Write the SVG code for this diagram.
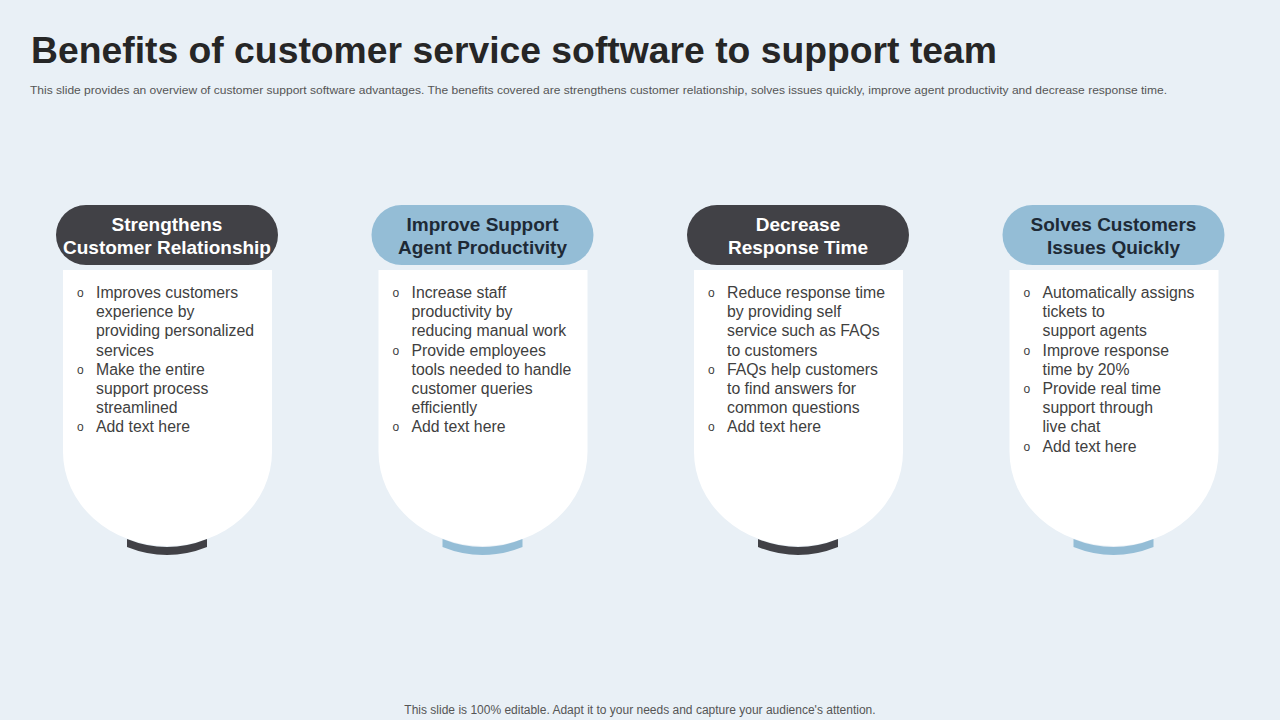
<svg xmlns="http://www.w3.org/2000/svg" width="1280" height="720" viewBox="0 0 1280 720">
<defs>
<style>
.bg{fill:#e9f0f6}
.title{font-family:"Liberation Sans",Arial,sans-serif;font-weight:bold;font-size:37px;fill:#262626}
.sub{font-family:"Liberation Sans",Arial,sans-serif;font-size:10.5px;fill:#555}
.foot{font-family:"Liberation Sans",Arial,sans-serif;font-size:12px;fill:#555}
.card{fill:#ffffff}
.dark{fill:#414146}
.light{fill:#94bdd6}
.hw{font-family:"Liberation Sans",Arial,sans-serif;font-weight:bold;font-size:19px;fill:#ffffff}
.hd{font-family:"Liberation Sans",Arial,sans-serif;font-weight:bold;font-size:19px;fill:#1e2a36}
.body{font-family:"Liberation Sans",Arial,sans-serif;font-size:15.8px;fill:#404040}
.bul{font-family:"Liberation Sans",Arial,sans-serif;font-size:12px;fill:#404040}
</style>
<path id="cardShape" d="M63,270 H272 V452 A104.5,94 0 0 1 63,452 Z"/>
<path id="arcShape" d="M127,539 Q167,555 207,539 L207,547 Q167,563 127,547 Z"/>
</defs>
<rect class="bg" x="0" y="0" width="1280" height="720"/>
<text class="title" x="31" y="63" textLength="966" lengthAdjust="spacingAndGlyphs">Benefits of customer service software to support team</text>
<text class="sub" x="30" y="94" textLength="1137" lengthAdjust="spacingAndGlyphs">This slide provides an overview of customer support software advantages. The benefits covered are strengthens customer relationship, solves issues quickly, improve agent productivity and decrease response time.</text>

<g id="connectors"></g>

<g id="node1">
<use href="#cardShape" class="card"/>
<use href="#arcShape" class="dark"/>
<rect class="dark" x="56" y="205" width="222" height="60" rx="30"/>
<text class="hw" text-anchor="middle"><tspan x="167" y="230.5">Strengthens</tspan><tspan x="167" y="253.5">Customer Relationship</tspan></text>
<text class="bul"><tspan x="77" y="297">o</tspan><tspan x="77" y="373.8">o</tspan><tspan x="77" y="431.4">o</tspan></text>
<text class="body"><tspan x="96" y="298">Improves customers</tspan><tspan x="96" y="317.2">experience by</tspan><tspan x="96" y="336.4">providing personalized</tspan><tspan x="96" y="355.6">services</tspan><tspan x="96" y="374.8">Make the entire</tspan><tspan x="96" y="394">support process</tspan><tspan x="96" y="413.2">streamlined</tspan><tspan x="96" y="432.4">Add text here</tspan></text>
</g>

<g id="node2" transform="translate(315.5,0)">
<use href="#cardShape" class="card"/>
<use href="#arcShape" class="light"/>
<rect class="light" x="56" y="205" width="222" height="60" rx="30"/>
<text class="hd" text-anchor="middle"><tspan x="167" y="230.5">Improve Support</tspan><tspan x="167" y="253.5">Agent Productivity</tspan></text>
<text class="bul"><tspan x="77" y="297">o</tspan><tspan x="77" y="354.6">o</tspan><tspan x="77" y="431.4">o</tspan></text>
<text class="body"><tspan x="96" y="298">Increase staff</tspan><tspan x="96" y="317.2">productivity by</tspan><tspan x="96" y="336.4">reducing manual work</tspan><tspan x="96" y="355.6">Provide employees</tspan><tspan x="96" y="374.8">tools needed to handle</tspan><tspan x="96" y="394">customer queries</tspan><tspan x="96" y="413.2">efficiently</tspan><tspan x="96" y="432.4">Add text here</tspan></text>
</g>

<g id="node3" transform="translate(631,0)">
<use href="#cardShape" class="card"/>
<use href="#arcShape" class="dark"/>
<rect class="dark" x="56" y="205" width="222" height="60" rx="30"/>
<text class="hw" text-anchor="middle"><tspan x="167" y="230.5">Decrease</tspan><tspan x="167" y="253.5">Response Time</tspan></text>
<text class="bul"><tspan x="77" y="297">o</tspan><tspan x="77" y="373.8">o</tspan><tspan x="77" y="431.4">o</tspan></text>
<text class="body"><tspan x="96" y="298">Reduce response time</tspan><tspan x="96" y="317.2">by providing self</tspan><tspan x="96" y="336.4">service such as FAQs</tspan><tspan x="96" y="355.6">to customers</tspan><tspan x="96" y="374.8">FAQs help customers</tspan><tspan x="96" y="394">to find answers for</tspan><tspan x="96" y="413.2">common questions</tspan><tspan x="96" y="432.4">Add text here</tspan></text>
</g>

<g id="node4" transform="translate(946.5,0)">
<use href="#cardShape" class="card"/>
<use href="#arcShape" class="light"/>
<rect class="light" x="56" y="205" width="222" height="60" rx="30"/>
<text class="hd" text-anchor="middle"><tspan x="167" y="230.5">Solves Customers</tspan><tspan x="167" y="253.5">Issues Quickly</tspan></text>
<text class="bul"><tspan x="77" y="297">o</tspan><tspan x="77" y="354.6">o</tspan><tspan x="77" y="393">o</tspan><tspan x="77" y="450.6">o</tspan></text>
<text class="body"><tspan x="96" y="298">Automatically assigns</tspan><tspan x="96" y="317.2">tickets to</tspan><tspan x="96" y="336.4">support agents</tspan><tspan x="96" y="355.6">Improve response</tspan><tspan x="96" y="374.8">time by 20%</tspan><tspan x="96" y="394">Provide real time</tspan><tspan x="96" y="413.2">support through</tspan><tspan x="96" y="432.4">live chat</tspan><tspan x="96" y="451.6">Add text here</tspan></text>
</g>

<text class="foot" x="640" y="714" text-anchor="middle">This slide is 100% editable. Adapt it to your needs and capture your audience's attention.</text>
</svg>
